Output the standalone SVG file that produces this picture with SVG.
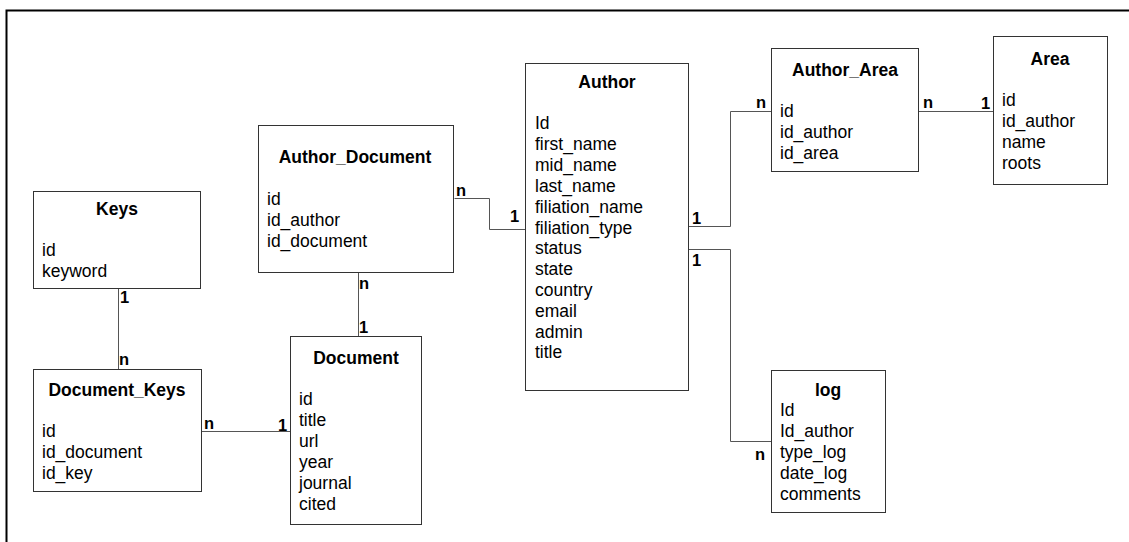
<svg xmlns="http://www.w3.org/2000/svg" width="1129" height="542" viewBox="0 0 1129 542">
<style>
.box{fill:#fff;stroke:#333;stroke-width:1}
.t{font-family:"Liberation Sans",Arial,sans-serif;font-size:17.5px;font-weight:bold;fill:#000;text-anchor:middle}
.a{font-family:"Liberation Sans",Arial,sans-serif;font-size:17.5px;fill:#000}
.c{font-family:"Liberation Sans",Arial,sans-serif;font-size:16.5px;font-weight:bold;fill:#000}
.ln{fill:none;stroke:#555;stroke-width:1}
</style>
<rect width="1129" height="542" fill="#fff"/>
<path d="M6.5,542 V10.5 H1129" fill="none" stroke="#000" stroke-width="2"/>
<g id="connectors">
<path class="ln" d="M454.5,198.5 H489.5 V229.5 H525"/>
<path class="ln" d="M689,226.5 H730.5 V111.5 H771"/>
<path class="ln" d="M689,249.5 H730.5 V441.5 H771"/>
<path class="ln" d="M919,111.5 H993"/>
<path class="ln" d="M358.5,273 V336"/>
<path class="ln" d="M118.5,289 V369"/>
<path class="ln" d="M202,431.5 H290"/>
<text class="c" x="456" y="196">n</text>
<text class="c" x="510" y="222">1</text>
<text class="c" x="692" y="224">1</text>
<text class="c" x="756" y="108">n</text>
<text class="c" x="692" y="266">1</text>
<text class="c" x="755" y="460">n</text>
<text class="c" x="923" y="108">n</text>
<text class="c" x="981" y="109">1</text>
<text class="c" x="359" y="289">n</text>
<text class="c" x="359" y="333">1</text>
<text class="c" x="120" y="303">1</text>
<text class="c" x="119" y="365">n</text>
<text class="c" x="204" y="429">n</text>
<text class="c" x="278" y="431">1</text>
</g>
<g id="Author">
<rect class="box" x="525.5" y="63.5" width="163" height="327"/>
<text class="t" x="607" y="88">Author</text>
<text class="a" x="535" y="129">Id</text>
<text class="a" x="535" y="150">first_name</text>
<text class="a" x="535" y="171">mid_name</text>
<text class="a" x="535" y="192">last_name</text>
<text class="a" x="535" y="213">filiation_name</text>
<text class="a" x="535" y="234">filiation_type</text>
<text class="a" x="535" y="254">status</text>
<text class="a" x="535" y="275">state</text>
<text class="a" x="535" y="296">country</text>
<text class="a" x="535" y="317">email</text>
<text class="a" x="535" y="338">admin</text>
<text class="a" x="535" y="358">title</text>
</g>
<g id="Author_Area">
<rect class="box" x="771.5" y="48.5" width="147" height="123"/>
<text class="t" x="845" y="76">Author_Area</text>
<text class="a" x="780" y="117">id</text>
<text class="a" x="780" y="138">id_author</text>
<text class="a" x="780" y="159">id_area</text>
</g>
<g id="Area">
<rect class="box" x="993.5" y="36.5" width="114" height="148"/>
<text class="t" x="1050" y="65">Area</text>
<text class="a" x="1002" y="106">id</text>
<text class="a" x="1002" y="127">id_author</text>
<text class="a" x="1002" y="148">name</text>
<text class="a" x="1002" y="169">roots</text>
</g>
<g id="Author_Document">
<rect class="box" x="258.5" y="125.5" width="195" height="147"/>
<text class="t" x="355" y="163">Author_Document</text>
<text class="a" x="267" y="205">id</text>
<text class="a" x="267" y="226">id_author</text>
<text class="a" x="267" y="247">id_document</text>
</g>
<g id="Keys">
<rect class="box" x="33.5" y="191.5" width="167" height="97"/>
<text class="t" x="117" y="215">Keys</text>
<text class="a" x="42" y="256">id</text>
<text class="a" x="42" y="277">keyword</text>
</g>
<g id="Document_Keys">
<rect class="box" x="33.5" y="369.5" width="168" height="122"/>
<text class="t" x="117" y="396">Document_Keys</text>
<text class="a" x="42" y="437">id</text>
<text class="a" x="42" y="458">id_document</text>
<text class="a" x="42" y="479">id_key</text>
</g>
<g id="Document">
<rect class="box" x="290.5" y="336.5" width="131" height="188"/>
<text class="t" x="356" y="364">Document</text>
<text class="a" x="299" y="405">id</text>
<text class="a" x="299" y="426">title</text>
<text class="a" x="299" y="447">url</text>
<text class="a" x="299" y="468">year</text>
<text class="a" x="299" y="489">journal</text>
<text class="a" x="299" y="510">cited</text>
</g>
<g id="log">
<rect class="box" x="771.5" y="370.5" width="114" height="142"/>
<text class="t" x="828" y="396">log</text>
<text class="a" x="780" y="416">Id</text>
<text class="a" x="780" y="437">Id_author</text>
<text class="a" x="780" y="458">type_log</text>
<text class="a" x="780" y="479">date_log</text>
<text class="a" x="780" y="500">comments</text>
</g>
</svg>
